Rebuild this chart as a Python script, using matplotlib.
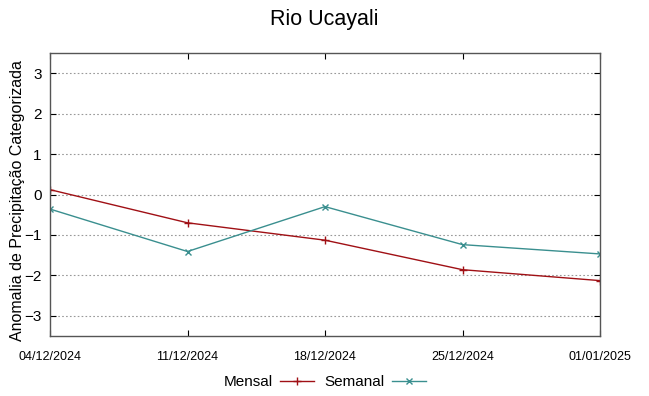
import numpy as np
import matplotlib.pyplot as plt

# Dates (weekly) and anomaly values
datas = ["04/12/2024", "11/12/2024", "18/12/2024", "25/12/2024", "01/01/2025"]
mensal = [0.12, -0.70, -1.13, -1.86, -2.13]
semanal = [-0.36, -1.41, -0.30, -1.24, -1.47]

plt.rcParams["font.family"] = ["Liberation Sans", "DejaVu Sans"]

fig = plt.figure(figsize=(6.49, 3.96), dpi=100)
ax = fig.add_axes([50 / 649, 1 - 336 / 396, 550 / 649, 283 / 396])

x = np.arange(len(datas))
ax.plot(x, mensal, color="#a01015", lw=1.0, marker="+", ms=6, mew=1.0, label="Mensal")
ax.plot(x, semanal, color="#3a8f8f", lw=1.0, marker="x", ms=5, mew=1.0, label="Semanal")

ax.set_xlim(0, len(datas) - 1)
ax.set_ylim(-3.5, 3.5)
ax.set_xticks(x)
ax.set_xticklabels(datas, family=["Liberation Sans Narrow", "Liberation Sans"], fontsize=9)
ax.set_yticks([-3, -2, -1, 0, 1, 2, 3])
ax.tick_params(axis="y", labelsize=11, direction="in", right=True, length=4, pad=6)
ax.tick_params(axis="x", direction="in", top=True, length=4, pad=11)
ax.grid(axis="y", ls=(0, (1.5, 2)), color="#999999", lw=0.8)
for s in ax.spines.values():
    s.set_color("#555555")
    s.set_linewidth(1.0)

fig.text(18 / 649, 1 - 201 / 396, "Anomalia de Precipitação Categorizada",
         rotation=90, ha="center", va="center", fontsize=11.5)
fig.text(0.5, 1 - 19 / 396, "Rio Ucayali", ha="center", va="center", fontsize=15.5)

fig.legend(loc="center", bbox_to_anchor=(0.5, 1 - 382 / 396), ncol=2, frameon=False,
           markerfirst=False, fontsize=11, handlelength=2.2, columnspacing=0.7,
           handletextpad=0.5)

fig.savefig("out.png", dpi=100)
